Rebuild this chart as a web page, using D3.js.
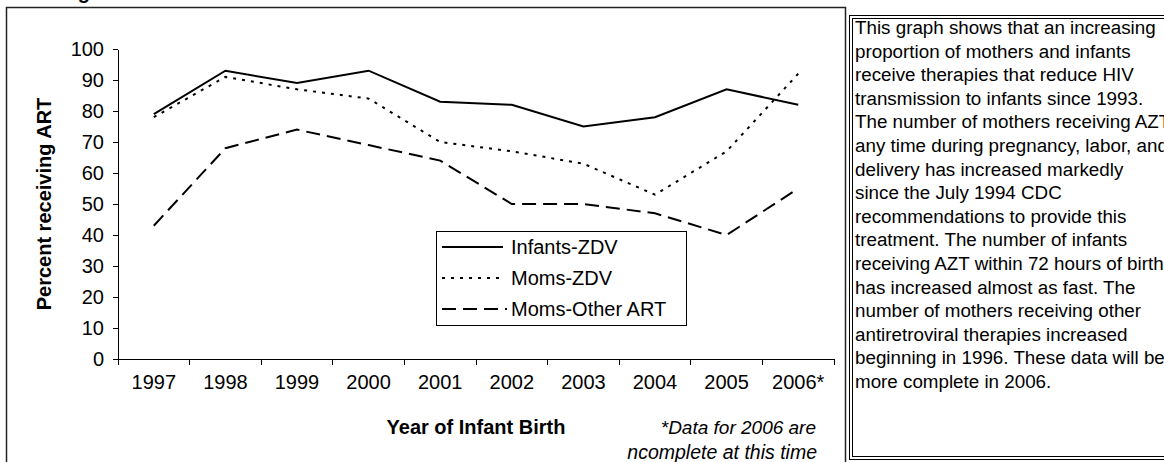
<!DOCTYPE html>
<html>
<head>
<meta charset="utf-8">
<script src="https://cdn.jsdelivr.net/npm/d3@7"></script>
<style>
	body { margin: 0; background: #fff; }
	svg text { font-family: Arial, "Liberation Sans", sans-serif; fill: #000; }
	.axis path, .axis line { stroke: #000; stroke-width: 1; shape-rendering: crispEdges; }
	.axis text { font-size: 20px; }
</style>
</head>
<body>
<div id="picture"></div>
<script>
// data
const years      = ["1997", "1998", "1999", "2000", "2001", "2002", "2003", "2004", "2005", "2006*"]
	, infantsZdv = [79, 93, 89, 93, 83, 82, 75, 78, 87, 82]
	, momsZdv    = [78, 91, 87, 84, 70, 67, 63, 53, 67, 92]
	, momsOther  = [43, 68, 74, 69, 64, 50, 50, 47, 40, 55]
	, yTicks     = [0, 10, 20, 30, 40, 50, 60, 70, 80, 90, 100]
	, seriesNames = ["Infants-ZDV", "Moms-ZDV", "Moms-Other ART"]
	, dashes     = ["none", "3,6", "14,7"];

const noteLines = [
	"This graph shows that an increasing",
	"proportion of mothers and infants",
	"receive therapies that reduce HIV",
	"transmission to infants since 1993.",
	"The number of mothers receiving AZT",
	"any time during pregnancy, labor, and",
	"delivery has increased markedly",
	"since the July 1994 CDC",
	"recommendations to provide this",
	"treatment. The number of infants",
	"receiving AZT within 72 hours of birth",
	"has increased almost as fast. The",
	"number of mothers receiving other",
	"antiretroviral therapies increased",
	"beginning in 1996.  These data will be",
	"more complete in 2006."
];

const width  = 1164
	, height = 462
	, plot   = { left: 118, right: 834, top: 49, bottom: 359 };

const svg = d3.select("#picture")
	.append("svg")
		.attr("width", width)
		.attr("height", height);

// cut-off title at top (only its descender shows)
svg.append("text")
	.attr("x", 60)
	.attr("y", -1)
	.style("font-size", "20px")
	.style("font-weight", "bold")
	.text("Figure");

// chart frame
svg.append("rect")
	.attr("x", 6.5)
	.attr("y", 7.5)
	.attr("width", 839)
	.attr("height", 470)
	.attr("fill", "none")
	.attr("stroke", "#222")
	.attr("stroke-width", 1.5);

// scales
const x = d3.scaleBand()
	.domain(years)
	.range([plot.left, plot.right])
	.padding(0);
const y = d3.scaleLinear()
	.domain([0, 100])
	.range([plot.bottom, plot.top]);

// y axis
svg.append("g")
	.attr("class", "axis")
	.attr("transform", "translate(" + plot.left + ",0)")
	.call(d3.axisLeft(y)
		.tickValues(yTicks)
		.tickSize(5)
		.tickSizeOuter(0)
		.tickPadding(9));

// x axis, ticks between categories
const xAxis = svg.append("g")
	.attr("class", "axis")
	.attr("transform", "translate(0," + plot.bottom + ")");
xAxis.append("line")
	.attr("x1", plot.left)
	.attr("x2", plot.right);
xAxis.selectAll(".sep")
	.data(years.concat(["end"]))
	.join("line")
		.attr("class", "sep")
		.attr("x1", (d, i) => plot.left + i * x.bandwidth())
		.attr("x2", (d, i) => plot.left + i * x.bandwidth())
		.attr("y1", 0)
		.attr("y2", 6);
xAxis.selectAll(".lbl")
	.data(years)
	.join("text")
		.attr("class", "lbl")
		.attr("x", d => x(d) + x.bandwidth() / 2)
		.attr("y", 30)
		.attr("text-anchor", "middle")
		.text(d => d);

// axis titles
svg.append("text")
	.attr("transform", "translate(51," + ((plot.top + plot.bottom) / 2) + ") rotate(-90)")
	.attr("text-anchor", "middle")
	.style("font-size", "20px")
	.style("font-weight", "bold")
	.text("Percent receiving ART");
svg.append("text")
	.attr("x", 476)
	.attr("y", 434)
	.attr("text-anchor", "middle")
	.style("font-size", "20px")
	.style("font-weight", "bold")
	.text("Year of Infant Birth");
svg.append("text")
	.attr("x", 816)
	.attr("y", 434)
	.attr("text-anchor", "end")
	.style("font-size", "19px")
	.style("font-style", "italic")
	.text("*Data for 2006  are");
svg.append("text")
	.attr("x", 817)
	.attr("y", 459)
	.attr("text-anchor", "end")
	.style("font-size", "19.5px")
	.style("font-style", "italic")
	.text("ncomplete at this time");

// lines
const series = [infantsZdv, momsZdv, momsOther];
const line = d3.line()
	.x((d, i) => x(years[i]) + x.bandwidth() / 2)
	.y(d => y(d));
svg.selectAll(".series")
	.data(series)
	.join("path")
		.attr("class", "series")
		.attr("d", line)
		.attr("fill", "none")
		.attr("stroke", "#000")
		.attr("stroke-width", 2)
		.attr("stroke-dasharray", (d, i) => dashes[i]);

// legend
const legend = svg.append("g")
	.attr("transform", "translate(436,231)");
legend.append("rect")
	.attr("x", 0.5)
	.attr("y", 0.5)
	.attr("width", 250)
	.attr("height", 94)
	.attr("fill", "#fff")
	.attr("stroke", "#000")
	.attr("stroke-width", 1);
const entry = legend.selectAll(".entry")
	.data(seriesNames)
	.join("g")
		.attr("class", "entry")
		.attr("transform", (d, i) => "translate(0," + (16 + i * 31) + ")");
entry.append("line")
	.attr("x1", 6)
	.attr("x2", (d, i) => i == 2 ? 71 : 67)
	.attr("stroke", "#000")
	.attr("stroke-width", 2)
	.attr("stroke-dasharray", (d, i) => dashes[i]);
entry.append("text")
	.attr("x", 75)
	.attr("y", 7)
	.style("font-size", "20px")
	.text(d => d);

// note box
svg.append("rect")
	.attr("x", 849.5)
	.attr("y", 15.5)
	.attr("width", 330)
	.attr("height", 444)
	.attr("fill", "none")
	.attr("stroke", "#000");
svg.append("rect")
	.attr("x", 852.5)
	.attr("y", 18.5)
	.attr("width", 330)
	.attr("height", 438)
	.attr("fill", "none")
	.attr("stroke", "#000");
svg.append("g")
	.selectAll("text")
	.data(noteLines)
	.join("text")
		.attr("x", 855)
		.attr("y", (d, i) => 34 + i * 23.6)
		.style("font-size", "18.8px")
		.text(d => d);
</script>
</body>
</html>
